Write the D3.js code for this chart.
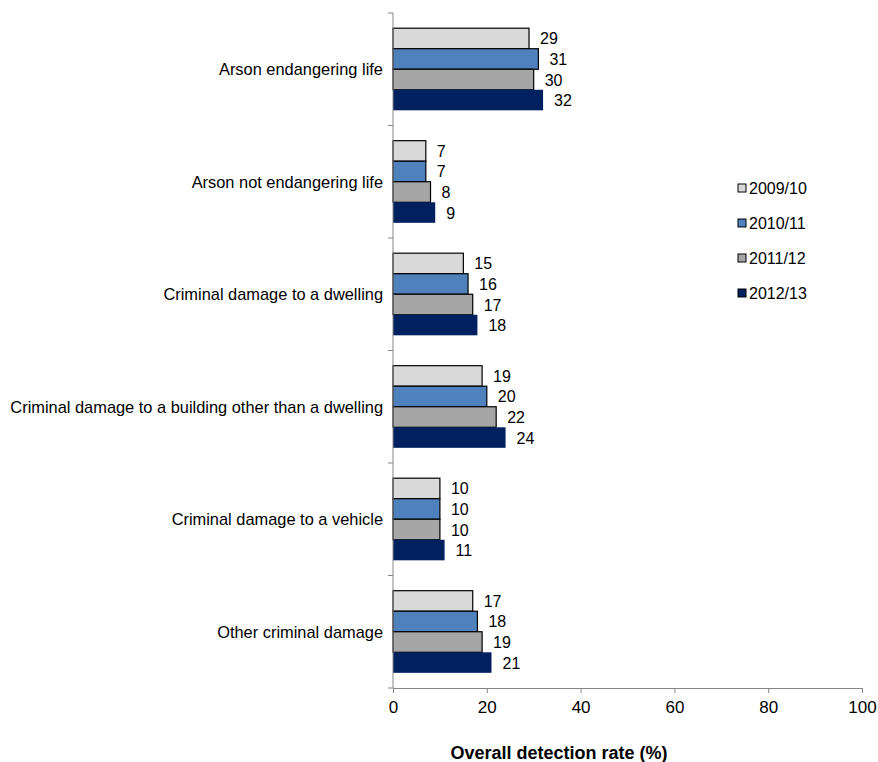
<!DOCTYPE html>
<html>
<head>
<meta charset="utf-8">
<script src="https://cdn.jsdelivr.net/npm/d3@7"></script>
<style>
  body { margin: 0; background: #fff; }
  text { font-family: "Liberation Sans", Arial, sans-serif; }
</style>
</head>
<body>
<div id="chart"></div>
<script>
// Chart data
const categories = [
    'Arson endangering life',
    'Arson not endangering life',
    'Criminal damage to a dwelling',
    'Criminal damage to a building other than a dwelling',
    'Criminal damage to a vehicle',
    'Other criminal damage'
];
const years = ['2009/10', '2010/11', '2011/12', '2012/13'];
const rate0910 = [29, 7, 15, 19, 10, 17];
const rate1011 = [31, 7, 16, 20, 10, 18];
const rate1112 = [30, 8, 17, 22, 10, 19];
const rate1213 = [32, 9, 18, 24, 11, 21];
const xTicks = [0, 20, 40, 60, 80, 100];

const seriesValues = [rate0910, rate1011, rate1112, rate1213];
const colors = ['#d9d9d9', '#4f81bd', '#a6a6a6', '#002060'];
const strokes = ['#000', '#000', '#000', 'none'];

const width = 878;
const height = 762;
const margin = { top: 13, left: 393, right: 16, bottom: 74 };

const svg = d3.select('#chart').append('svg')
    .attr('width', width)
    .attr('height', height);

// Scales
const x = d3.scaleLinear()
    .domain([0, 100])
    .range([margin.left, width - margin.right]);

const y = d3.scaleBand()
    .domain(categories)
    .range([margin.top, height - margin.bottom])
    .paddingInner(0.27)
    .paddingOuter(0.135);

const ySub = d3.scaleBand()
    .domain(years)
    .range([0, y.bandwidth()]);

// Bars
categories.forEach(function (cat, i) {
    const g = svg.append('g');
    years.forEach(function (yr, j) {
        const v = seriesValues[j][i];
        g.append('rect')
            .attr('x', x(0))
            .attr('y', y(cat) + ySub(yr))
            .attr('width', x(v) - x(0))
            .attr('height', ySub.bandwidth())
            .style('fill', colors[j])
            .style('stroke', strokes[j])
            .style('stroke-width', 1.2);
        g.append('text')
            .attr('x', x(v) + 11)
            .attr('y', y(cat) + ySub(yr) + ySub.bandwidth() / 2 + 6)
            .attr('font-size', 16)
            .attr('fill', '#000')
            .text(v);
    });
});

// Y axis with ticks between categories
const yBottom = height - margin.bottom;
svg.append('line')
    .attr('x1', x(0)).attr('x2', x(0))
    .attr('y1', margin.top).attr('y2', yBottom)
    .style('stroke', '#868686');
const step = (yBottom - margin.top) / categories.length;
d3.range(categories.length + 1).forEach(function (k) {
    svg.append('line')
        .attr('x1', x(0) - 5).attr('x2', x(0))
        .attr('y1', margin.top + k * step).attr('y2', margin.top + k * step)
        .style('stroke', '#868686');
});
categories.forEach(function (cat) {
    svg.append('text')
        .attr('x', x(0) - 10)
        .attr('y', y(cat) + y.bandwidth() / 2 + 6)
        .attr('text-anchor', 'end')
        .attr('font-size', 16.4)
        .text(cat);
});

// X axis
const xAxis = svg.append('g')
    .attr('transform', `translate(0,${yBottom})`)
    .call(d3.axisBottom(x).tickValues(xTicks).tickSize(5).tickSizeOuter(0).tickPadding(8));
xAxis.select('.domain').style('stroke', '#868686');
xAxis.selectAll('.tick line').style('stroke', '#868686');
xAxis.selectAll('.tick text')
    .attr('font-size', 17)
    .attr('fill', '#000')
    .style('font-family', '"Liberation Sans", Arial, sans-serif');

svg.append('text')
    .attr('x', 559)
    .attr('y', 759)
    .attr('text-anchor', 'middle')
    .attr('font-size', 18)
    .attr('font-weight', 'bold')
    .text('Overall detection rate (%)');

// Legend
const legend = svg.append('g').attr('transform', 'translate(738,188)');
years.forEach(function (yr, j) {
    const row = legend.append('g').attr('transform', `translate(0,${j * 35})`);
    row.append('rect')
        .attr('x', 0).attr('y', -4)
        .attr('width', 8).attr('height', 8)
        .style('fill', colors[j])
        .style('stroke', '#000')
        .style('stroke-width', 1);
    row.append('text')
        .attr('x', 11)
        .attr('y', 6)
        .attr('font-size', 16)
        .text(yr);
});
</script>
</body>
</html>
